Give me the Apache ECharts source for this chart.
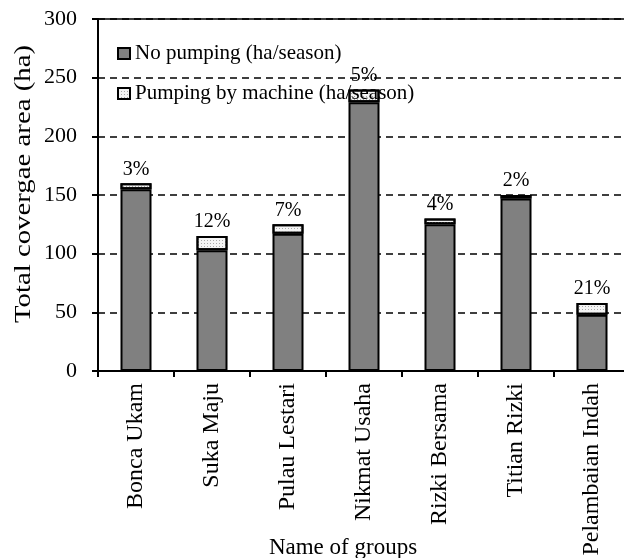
<!DOCTYPE html>
<html>
<head>
<meta charset="utf-8">
<script src="https://cdn.jsdelivr.net/npm/echarts@6/dist/echarts.min.js"></script>
<style>
html,body{margin:0;padding:0;background:#fff;}
#chart{width:624px;height:558px;}
</style>
</head>
<body>
<div id="chart"></div>
<script>
const categories = ["Bonca Ukam","Suka Maju","Pulau Lestari","Nikmat Usaha","Rizki Bersama","Titian Rizki","Pelambaian Indah"];
const noPumping = [155, 103, 117, 229, 125, 147, 48];
const pumping = [5, 12, 8, 11, 5, 3, 10];
const pctLabels = ["3%","12%","7%","5%","4%","2%","21%"];
const yTicks = [0, 50, 100, 150, 200, 250, 300];
const yTitle = "Total covergae area (ha)";
const xTitle = "Name of groups";

const font = "Liberation Serif";
const chart = echarts.init(document.getElementById('chart'), null, {renderer:'canvas'});
chart.setOption({
  animation:false,
  backgroundColor:'#fff',
  textStyle:{fontFamily:font, color:'#000'},
  grid:{left:98, top:19, bottom:187, right:-6, containLabel:false, outerBoundsMode:'none'},
  legend:{
    orient:'vertical', left:112, top:38, itemWidth:12, itemHeight:11, itemGap:19,
    textStyle:{fontFamily:font, fontSize:21, color:'#000'},
    data:[{name:'No pumping (ha/season)', icon:'rect'},{name:'Pumping by machine (ha/season)', icon:'rect'}]
  },
  graphic:[{
    type:'text', x:24, y:184, rotation:Math.PI/2, scaleX:1.2,
    style:{text:yTitle, font:'24px "Liberation Serif"', fill:'#000', align:'center', verticalAlign:'middle'}
  }],
  xAxis:[{
    type:'category', data:categories,
    name:xTitle, nameLocation:'middle', nameGap:165, nameMoveOverlap:false,
    nameTextStyle:{fontFamily:font, fontSize:23, color:'#000', padding:[0,42,0,0]},
    axisLine:{lineStyle:{color:'#000', width:2}},
    axisTick:{show:true, alignWithLabel:false, length:6, lineStyle:{color:'#000', width:2}},
    axisLabel:{rotate:90, fontFamily:font, fontSize:24, color:'#000', margin:12}
  },{
    type:'category', data:categories, position:'top',
    axisLine:{show:true, lineStyle:{color:'#000', width:1.5}},
    axisTick:{show:false}, axisLabel:{show:false}, splitLine:{show:false}
  }],
  yAxis:{
    type:'value', min:0, max:300, interval:50,
    axisLine:{show:true, lineStyle:{color:'#000', width:2}},
    axisTick:{show:true, length:6, lineStyle:{color:'#000', width:2}},
    axisLabel:{fontFamily:font, fontSize:22, color:'#000', margin:21,
      formatter:function(v){return yTicks.indexOf(v)>=0 ? String(v) : '';}},
    splitLine:{show:true, lineStyle:{color:'#000', type:[7,5], width:1.5}}
  },
  series:[
    {
      name:'No pumping (ha/season)', type:'bar', stack:'a', data:noPumping,
      barWidth:31,
      itemStyle:{color:'#808080', borderColor:'#000', borderWidth:2}
    },
    {
      name:'Pumping by machine (ha/season)', type:'bar', stack:'a', data:pumping,
      barWidth:31,
      itemStyle:{color:'#f4f4f4', borderColor:'#000', borderWidth:2,
        decal:{symbol:'rect', symbolSize:1, dashArrayX:[1,2], dashArrayY:[1,2], color:'#a8a8a8'}},
      label:{show:true, position:'top', distance:4, fontFamily:font, fontSize:20, color:'#000',
        formatter:function(p){return pctLabels[p.dataIndex];}}
    }
  ]
});
</script>
</body>
</html>
